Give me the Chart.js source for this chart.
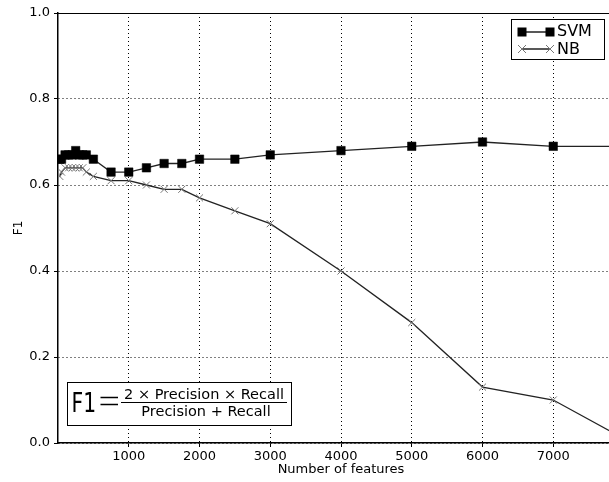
<!DOCTYPE html>
<html>
<head>
<meta charset="utf-8">
<script src="https://cdn.jsdelivr.net/npm/chart.js@4.4.1/dist/chart.umd.min.js"></script>
<style>
  html, body { margin: 0; padding: 0; background: #fff; overflow: hidden; }
  #wrap { width: 640px; height: 482px; }
</style>
</head>
<body>
<div id="wrap"><canvas id="chart" width="640" height="482"></canvas></div>
<script>
// values
var features = [25, 50, 100, 150, 200, 250, 300, 350, 400, 500, 750, 1000, 1250, 1500, 1750, 2000, 2500, 3000, 4000, 5000, 6000, 7000, 8000];
var svm = [0.66, 0.66, 0.67, 0.67, 0.67, 0.68, 0.67, 0.67, 0.67, 0.66, 0.63, 0.63, 0.64, 0.65, 0.65, 0.66, 0.66, 0.67, 0.68, 0.69, 0.70, 0.69, 0.69];
var nb = [0.62, 0.63, 0.64, 0.64, 0.64, 0.64, 0.64, 0.64, 0.63, 0.62, 0.61, 0.61, 0.60, 0.59, 0.59, 0.57, 0.54, 0.51, 0.40, 0.28, 0.13, 0.10, 0.01];
var yTicks = [0, 0.2, 0.4, 0.6, 0.8, 1.0];
var xTicks = [1000, 2000, 3000, 4000, 5000, 6000, 7000];

function pts(xs, ys) {
    return xs.map(function (x, i) { return { x: x, y: ys[i] }; });
}

var FONT = "'DejaVu Sans', sans-serif";

var extras = {
    id: "extras",
    afterDraw: function (chart) {
        var ctx = chart.ctx, a = chart.chartArea;
        ctx.save();
        // top border
        ctx.strokeStyle = "#000";
        ctx.lineWidth = 1.2;
        ctx.beginPath();
        ctx.moveTo(a.left, a.top + 0.5);
        ctx.lineTo(a.right, a.top + 0.5);
        ctx.stroke();

        // legend
        var lx = a.left + 453, ly = a.top + 6;
        ctx.fillStyle = "#fff";
        ctx.fillRect(lx, ly, 93, 40);
        ctx.lineWidth = 1;
        ctx.strokeStyle = "#000";
        ctx.strokeRect(lx + 0.5, ly + 0.5, 93, 40);
        ctx.strokeStyle = "#222";
        ctx.lineWidth = 1.3;
        ctx.beginPath();
        ctx.moveTo(lx + 11, ly + 13); ctx.lineTo(lx + 39, ly + 13);
        ctx.moveTo(lx + 11, ly + 30); ctx.lineTo(lx + 39, ly + 30);
        ctx.stroke();
        ctx.fillStyle = "#000";
        ctx.fillRect(lx + 6.5, ly + 8.5, 9, 9);
        ctx.fillRect(lx + 34.5, ly + 8.5, 9, 9);
        ctx.strokeStyle = "#777";
        ctx.lineWidth = 1;
        [lx + 11, lx + 39].forEach(function (cx) {
            ctx.beginPath();
            ctx.moveTo(cx - 4, ly + 26); ctx.lineTo(cx + 4, ly + 34);
            ctx.moveTo(cx + 4, ly + 26); ctx.lineTo(cx - 4, ly + 34);
            ctx.stroke();
        });
        ctx.fillStyle = "#000";
        ctx.font = "16px " + FONT;
        ctx.textBaseline = "middle";
        ctx.textAlign = "left";
        ctx.fillText("SVM", lx + 46, ly + 13);
        ctx.fillText("NB", lx + 46, ly + 31);

        // formula box
        var bx = a.left + 9, by = a.bottom - 61;
        ctx.fillStyle = "#fff";
        ctx.fillRect(bx, by, 224, 43);
        ctx.strokeStyle = "#000";
        ctx.strokeRect(bx + 0.5, by + 0.5, 224, 43);
        ctx.fillStyle = "#000";
        ctx.textBaseline = "alphabetic";
        ctx.save();
        ctx.translate(bx + 4.5, by + 29.5);
        ctx.scale(0.78, 1);
        ctx.font = "26px " + FONT;
        ctx.fillText("F1", 0, 0);
        ctx.restore();
        // equals sign
        ctx.lineWidth = 1.3;
        ctx.beginPath();
        ctx.moveTo(bx + 33.5, by + 15.5); ctx.lineTo(bx + 51, by + 15.5);
        ctx.moveTo(bx + 33.5, by + 22.5); ctx.lineTo(bx + 51, by + 22.5);
        ctx.stroke();
        ctx.font = "14.5px " + FONT;
        ctx.textAlign = "center";
        ctx.fillText("2 \u00d7 Precision \u00d7 Recall", bx + 137, by + 17);
        ctx.fillText("Precision + Recall", bx + 139, by + 34);
        ctx.lineWidth = 1;
        ctx.beginPath();
        ctx.moveTo(bx + 54, by + 20.5); ctx.lineTo(bx + 220, by + 20.5);
        ctx.stroke();
        ctx.restore();
    }
};

new Chart(document.getElementById("chart"), {
    type: "line",
    data: {
        datasets: [
            {
                label: "SVM",
                data: pts(features, svm),
                borderColor: "#222",
                borderWidth: 1.3,
                pointStyle: "rect",
                pointRadius: 6,
                pointBackgroundColor: "#000",
                pointBorderColor: "#000",
                pointBorderWidth: 0.5,
                tension: 0
            },
            {
                label: "NB",
                data: pts(features, nb),
                borderColor: "#222",
                borderWidth: 1.3,
                pointStyle: "crossRot",
                pointRadius: 5,
                pointBorderColor: "#777",
                pointBorderWidth: 1,
                tension: 0
            }
        ]
    },
    options: {
        responsive: false,
        animation: false,
        layout: { padding: { top: 13, right: 16, left: 0, bottom: 0 } },
        plugins: { legend: { display: false }, tooltip: { enabled: false } },
        scales: {
            x: {
                type: "linear",
                min: 0,
                max: 8000,
                afterBuildTicks: function (s) { s.ticks = xTicks.map(function (v) { return { value: v }; }); },
                afterFit: function (s) { s.height = 39; },
                ticks: { color: "#000", font: { family: FONT, size: 13 }, padding: 2, maxRotation: 0, autoSkip: false,
                         callback: function (v) { return String(v); } },
                grid: { color: "#000", lineWidth: 1, drawTicks: true, tickLength: 4, tickColor: "#000" },
                border: { color: "#000", width: 1.5, dash: [1, 3] },
                title: { display: true, text: "Number of features", color: "#000", font: { family: FONT, size: 13 }, padding: { top: 0, bottom: 5 } }
            },
            y: {
                min: 0,
                max: 1,
                afterBuildTicks: function (s) { s.ticks = yTicks.map(function (v) { return { value: v }; }); },
                afterFit: function (s) { s.width = 58; },
                ticks: { color: "#000", font: { family: FONT, size: 13 }, padding: 4, callback: function (v) { return v.toFixed(1); } },
                grid: { color: "#000", lineWidth: 1, tickLength: 4, tickColor: "#000" },
                border: { color: "#000", width: 1.5, dash: [1, 3] },
                title: { display: true, text: "F1", color: "#000", font: { family: FONT, size: 12 }, padding: { top: 12, bottom: 0 } }
            }
        }
    },
    plugins: [extras]
});
</script>
</body>
</html>
